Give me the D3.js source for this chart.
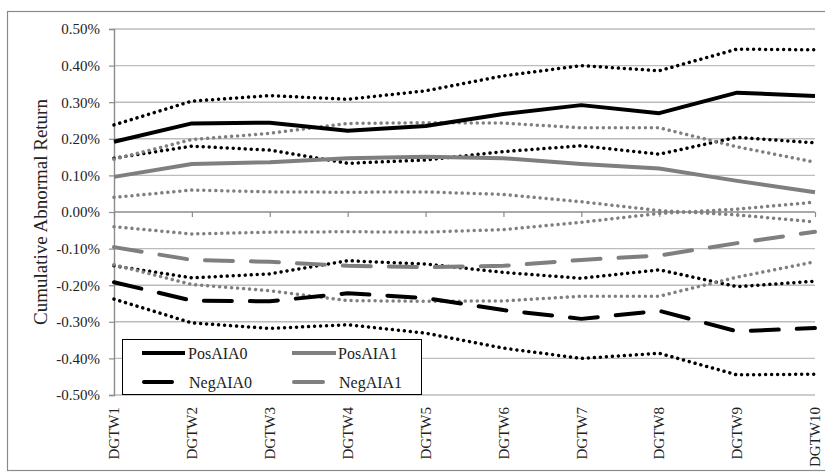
<!DOCTYPE html>
<html>
<head>
<meta charset="utf-8">
<script src="https://cdn.jsdelivr.net/npm/d3@7"></script>
<style>
  html, body { margin: 0; padding: 0; background: #fff; }
  svg { display: block; }
</style>
</head>
<body>
<svg id="chart" width="825" height="474"></svg>
<script>
// ---- data (values in %) ----
const categories = ["DGTW1","DGTW2","DGTW3","DGTW4","DGTW5","DGTW6","DGTW7","DGTW8","DGTW9","DGTW10"];
const yTicks = [0.5, 0.4, 0.3, 0.2, 0.1, 0.0, -0.1, -0.2, -0.3, -0.4, -0.5];

const posAIA0      = [0.192, 0.242, 0.244, 0.222, 0.235, 0.268, 0.292, 0.270, 0.326, 0.317];
const posAIA0Upper = [0.238, 0.303, 0.318, 0.308, 0.331, 0.372, 0.400, 0.386, 0.445, 0.443];
const posAIA0Lower = [0.147, 0.180, 0.169, 0.133, 0.142, 0.165, 0.181, 0.158, 0.204, 0.189];

const posAIA1      = [0.096, 0.131, 0.136, 0.147, 0.151, 0.147, 0.131, 0.119, 0.085, 0.054];
const posAIA1Upper = [0.144, 0.198, 0.215, 0.242, 0.244, 0.243, 0.230, 0.230, 0.178, 0.136];
const posAIA1Lower = [0.040, 0.060, 0.055, 0.054, 0.055, 0.048, 0.028, 0.004, -0.008, -0.027];

const negAIA0      = [-0.192, -0.242, -0.244, -0.222, -0.235, -0.268, -0.292, -0.270, -0.326, -0.317];
const negAIA0Upper = [-0.147, -0.180, -0.169, -0.133, -0.142, -0.165, -0.181, -0.158, -0.204, -0.189];
const negAIA0Lower = [-0.238, -0.303, -0.318, -0.308, -0.331, -0.372, -0.400, -0.386, -0.445, -0.443];

const negAIA1      = [-0.096, -0.131, -0.136, -0.147, -0.151, -0.147, -0.131, -0.119, -0.085, -0.054];
const negAIA1Upper = [-0.040, -0.060, -0.055, -0.054, -0.055, -0.048, -0.028, -0.004, 0.008, 0.027];
const negAIA1Lower = [-0.144, -0.198, -0.215, -0.242, -0.244, -0.243, -0.230, -0.230, -0.178, -0.136];

// ---- styles ----
const FONT = '"Liberation Serif"';
const BLACK = "#000000";
const GRAY = "#7f7f7f";
const styles = {
  solid:  { width: 4, dash: null, cap: "butt" },
  dashed: { width: 4, dash: "28,18", cap: "round" },
  dotted: { width: 3.5, dash: "0.01,6", cap: "round" }
};

const series = [
  { name: "PosAIA0 upper", values: posAIA0Upper, color: BLACK, style: "dotted" },
  { name: "PosAIA0 lower", values: posAIA0Lower, color: BLACK, style: "dotted" },
  { name: "PosAIA1 upper", values: posAIA1Upper, color: GRAY,  style: "dotted" },
  { name: "PosAIA1 lower", values: posAIA1Lower, color: GRAY,  style: "dotted" },
  { name: "NegAIA0 upper", values: negAIA0Upper, color: BLACK, style: "dotted" },
  { name: "NegAIA0 lower", values: negAIA0Lower, color: BLACK, style: "dotted" },
  { name: "NegAIA1 upper", values: negAIA1Upper, color: GRAY,  style: "dotted" },
  { name: "NegAIA1 lower", values: negAIA1Lower, color: GRAY,  style: "dotted" },
  { name: "PosAIA1", values: posAIA1, color: GRAY,  style: "solid"  },
  { name: "NegAIA1", values: negAIA1, color: GRAY,  style: "dashed" },
  { name: "PosAIA0", values: posAIA0, color: BLACK, style: "solid"  },
  { name: "NegAIA0", values: negAIA0, color: BLACK, style: "dashed" }
];

const legendItems = [
  { name: "PosAIA0", color: BLACK, style: "solid" },
  { name: "PosAIA1", color: GRAY,  style: "solid" },
  { name: "NegAIA0", color: BLACK, style: "dashed" },
  { name: "NegAIA1", color: GRAY,  style: "dashed" }
];

// ---- layout ----
const svg = d3.select("#chart");
const plotLeft = 114, plotRight = 815, plotTop = 29, plotBottom = 395;

// outer frame
svg.append("rect")
  .attr("x", 7.5).attr("y", 11.5).attr("width", 830).attr("height", 459)
  .attr("fill", "#fff").attr("stroke", "#8a8a8a").attr("stroke-width", 1.2);

const x = d3.scalePoint().domain(categories).range([plotLeft, plotRight]);
const y = d3.scaleLinear().domain([-0.5, 0.5]).range([plotBottom, plotTop]);

// gridlines
svg.append("g")
  .selectAll("line").data(yTicks).join("line")
  .attr("x1", plotLeft).attr("x2", plotRight)
  .attr("y1", d => y(d)).attr("y2", d => y(d))
  .attr("stroke", d => d === 0 ? "#8c8c8c" : "#bcbcbc")
  .attr("stroke-width", 1.4);

// y axis
const yAxis = d3.axisLeft(y).tickValues(yTicks)
  .tickFormat(d => (d < -1e-9 ? "-" : "") + d3.format(".2f")(Math.abs(d)) + "%")
  .tickSize(5).tickPadding(9);
const gy = svg.append("g").attr("transform", `translate(${plotLeft},0)`).call(yAxis);
gy.select(".domain").attr("stroke", "#8c8c8c").attr("stroke-width", 1.4);
gy.selectAll(".tick line").attr("stroke", "#8c8c8c").attr("stroke-width", 1.2);
gy.selectAll(".tick text")
  .style("font-family", FONT).style("font-size", "15px").attr("fill", "#222");

// x axis ticks on zero line
const xAxis = d3.axisBottom(x).tickSize(5).tickFormat("");
const gx = svg.append("g").attr("transform", `translate(0,${y(0)})`).call(xAxis);
gx.select(".domain").remove();
gx.selectAll(".tick line").attr("stroke", "#8c8c8c").attr("stroke-width", 1.2);

// x labels (low position)
svg.append("g")
  .selectAll("text").data(categories).join("text")
  .attr("transform", d => `translate(${x(d)},407) rotate(-90)`)
  .attr("text-anchor", "end").attr("dy", "0.35em")
  .style("font-family", FONT).style("font-size", "15px")
  .attr("fill", "#222")
  .text(d => d);

// y title
svg.append("text")
  .attr("transform", `translate(40,${y(0)}) rotate(-90)`)
  .attr("text-anchor", "middle").attr("dy", "0.35em")
  .style("font-family", FONT).style("font-size", "19px").attr("fill", "#222")
  .text("Cumulative Abnormal Return");

// lines
const line = d3.line().x((d, i) => x(categories[i])).y(d => y(d));
svg.append("g").selectAll("path").data(series).join("path")
  .attr("d", d => line(d.values))
  .attr("fill", "none")
  .attr("stroke", d => d.color)
  .attr("stroke-width", d => styles[d.style].width)
  .attr("stroke-dasharray", d => styles[d.style].dash)
  .attr("stroke-linecap", d => styles[d.style].cap)
  .attr("stroke-linejoin", "round");

// legend
const lg = svg.append("g");
lg.append("rect").attr("x", 122.5).attr("y", 339.5).attr("width", 299).attr("height", 55)
  .attr("fill", "#fff").attr("stroke", "#000").attr("stroke-width", 1);
const legPos = [
  { x1: 142, x2: 185, ty: 353, tx: 188 },
  { x1: 292, x2: 336, ty: 353, tx: 338 },
  { x1: 144, x2: 172, ty: 382, tx: 189 },
  { x1: 294, x2: 323, ty: 382, tx: 339 }
];
legendItems.forEach((it, i) => {
  const p = legPos[i];
  lg.append("line")
    .attr("x1", p.x1).attr("x2", p.x2).attr("y1", p.ty).attr("y2", p.ty)
    .attr("stroke", it.color).attr("stroke-width", 4)
    .attr("stroke-linecap", it.style === "dashed" ? "round" : "butt");
  lg.append("text").attr("x", p.tx).attr("y", p.ty).attr("dy", "0.35em")
    .style("font-family", FONT).style("font-size", "16px")
    .attr("fill", "#222").text(it.name);
});
</script>
</body>
</html>
